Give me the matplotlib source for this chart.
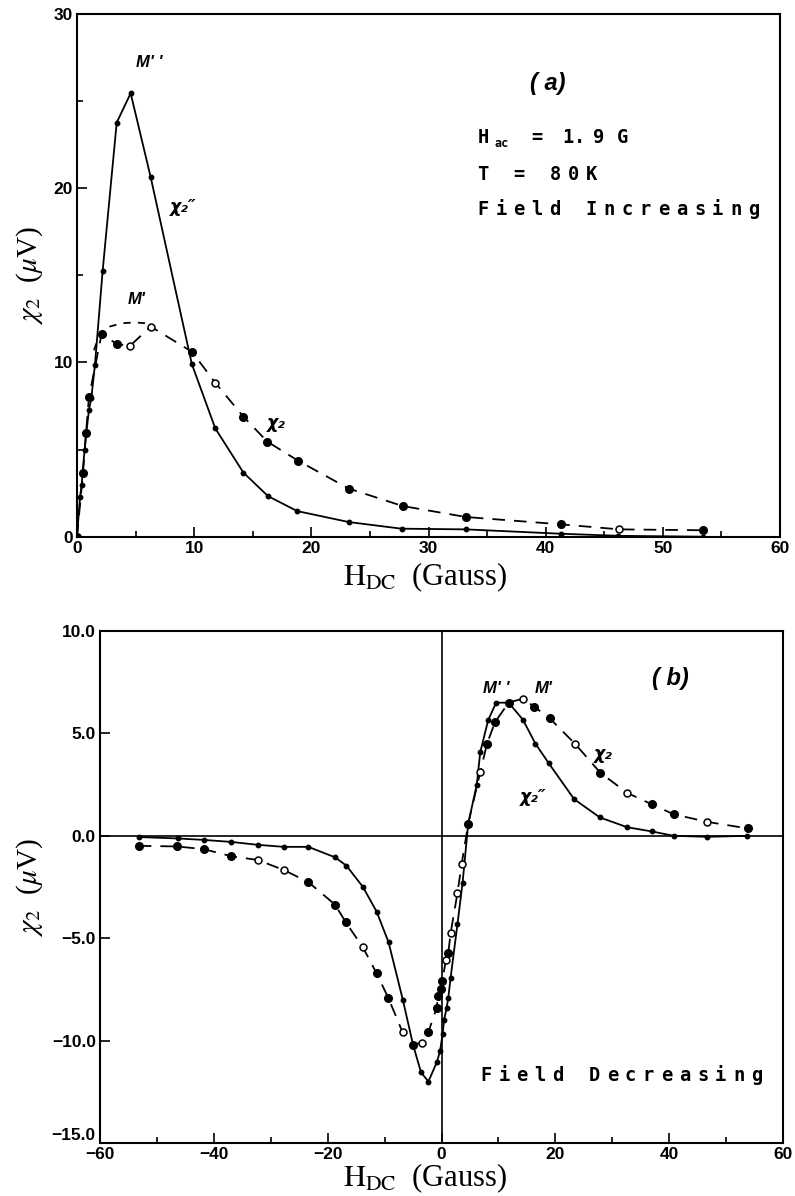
import matplotlib
matplotlib.use("Agg")
import matplotlib.pyplot as plt
from matplotlib.ticker import MultipleLocator, FuncFormatter

plt.rcParams['mathtext.fontset'] = 'stix'
plt.rcParams['font.family'] = ['Liberation Sans', 'DejaVu Sans']

# ---------------- Panel (a): field increasing ----------------
# chi2'' (solid, small dots)
sx_a = [0, 0.26, 0.40, 0.48, 0.65, 0.79, 1.02, 1.22, 1.53, 2.19, 3.39, 4.58, 6.29,
        9.8, 11.8, 14.2, 16.3, 18.8, 23.2, 27.7, 33.2, 41.3, 46.2, 53.4]
sy_a = [0, 2.30, 2.97, 3.73, 4.98, 5.94, 7.27, 7.94, 9.86, 15.27, 23.77, 25.45, 20.63,
        9.91, 6.22, 3.68, 2.33, 1.47, 0.84, 0.46, 0.42, 0.17, 0.05, 0.0]
# chi2' (dashed, big dots; 'o' = open circle, 'f' = filled)
dx_a = [0, 0.51, 0.77, 1.02, 2.1, 3.39, 4.52, 6.29, 9.8, 11.8, 14.2, 16.25, 18.9,
        23.2, 27.8, 33.2, 41.3, 46.3, 53.4]
dy_a = [0, 3.64, 5.97, 8.0, 11.64, 11.06, 10.95, 12.06, 10.62, 8.84, 6.89, 5.45, 4.35,
        2.76, 1.76, 1.13, 0.71, 0.42, 0.37]
dk_a = ['f', 'f', 'f', 'f', 'f', 'f', 'o', 'o', 'f', 'o', 'f', 'f', 'f',
        'f', 'f', 'f', 'f', 'o', 'f']
# dashed guide arc over the M' maximum
gx_a = [1.45, 1.75, 2.1, 2.8, 3.8, 5.0, 5.8, 6.29]
gy_a = [10.7, 11.3, 11.64, 12.06, 12.25, 12.3, 12.25, 12.06]

# ---------------- Panel (b): field decreasing ----------------
sx_b = [-53.2, -46.3, -41.8, -36.9, -32.3, -27.7, -23.4, -18.7, -16.7, -13.8, -11.4,
        -9.3, -6.8, -5.0, -3.6, -2.3, -0.8, -0.25, 0.2, 0.45, 0.9, 1.2, 1.6, 2.8, 3.7,
        4.7, 6.2, 6.8, 8.2, 9.6, 11.8, 14.3, 16.5, 18.8, 23.3, 27.8, 32.6, 37.0, 40.8,
        46.7, 53.7]
sy_b = [-0.06, -0.13, -0.2, -0.3, -0.44, -0.54, -0.54, -1.05, -1.46, -2.5, -3.7,
        -5.2, -8.0, -10.2, -11.55, -12.0, -11.04, -10.5, -9.67, -9.0, -8.4, -7.9, -6.93,
        -4.32, -2.3, 0.6, 2.5, 4.07, 5.65, 6.5, 6.5, 5.67, 4.5, 3.56, 1.79, 0.9, 0.42,
        0.21, 0.0, -0.05, 0.0]
dx_b = [-53.2, -46.5, -41.8, -36.9, -32.3, -27.7, -23.4, -18.7, -16.8, -13.8, -11.4,
        -9.37, -6.84, -4.97, -3.49, -2.33, -0.85, -0.6, -0.1, 0.1, 0.8, 1.2, 1.6, 2.8,
        3.55, 4.7, 6.8, 8.0, 9.4, 11.8, 14.3, 16.3, 19.0, 23.5, 27.9, 32.6, 37.0, 40.8,
        46.7, 53.8]
dy_b = [-0.49, -0.52, -0.65, -1.0, -1.18, -1.67, -2.26, -3.36, -4.23, -5.45, -6.72,
        -7.9, -9.59, -10.2, -10.1, -9.6, -8.4, -7.8, -7.5, -7.1, -6.05, -5.7, -4.76,
        -2.8, -1.37, 0.6, 3.1, 4.5, 5.55, 6.5, 6.7, 6.3, 5.74, 4.48, 3.08, 2.1, 1.53,
        1.05, 0.68, 0.36]
dk_b = ['f', 'f', 'f', 'f', 'o', 'o', 'f', 'f', 'f', 'o', 'f',
        'f', 'o', 'f', 'o', 'f', 'f', 'f', 'f', 'f', 'o', 'f', 'o',
        'o', 'o', 'f', 'o', 'f', 'f', 'f', 'o', 'f', 'f', 'o', 'f', 'o', 'f',
        'f', 'o', 'f']

xticks_a = [0, 10, 20, 30, 40, 50, 60]
yticks_a = [0, 10, 20, 30]
xticks_b = [-60, -40, -20, 0, 20, 40, 60]
yticks_b = [-15.0, -10.0, -5.0, 0.0, 5.0, 10.0]

DASH = (7, 5)
LW = 1.3


def draw(ax, sx, sy, dx, dy, dk):
    ax.plot(sx, sy, '-', color='black', lw=LW, marker='o', ms=3.2,
            mfc='black', mec='black', zorder=3)
    ax.plot(dx, dy, color='black', lw=LW, dashes=DASH, zorder=2)
    fx = [x for x, k in zip(dx, dk) if k == 'f']
    fy = [y for y, k in zip(dy, dk) if k == 'f']
    ox = [x for x, k in zip(dx, dk) if k == 'o']
    oy = [y for y, k in zip(dy, dk) if k == 'o']
    ax.plot(fx, fy, ls='none', marker='o', ms=5.5, mfc='black', mec='black', zorder=4)
    ax.plot(ox, oy, ls='none', marker='o', ms=5, mfc='white', mec='black',
            mew=1.1, zorder=4)


def spaced(ax, x, y, items, adv=13.0, size=13.5):
    for ch, cell, dy, fs in items:
        ax.annotate(ch, xy=(x, y), xycoords='data', xytext=(cell * adv, dy),
                    textcoords='offset points', ha='center', va='baseline',
                    fontsize=fs if fs else size, fontweight='bold',
                    family='DejaVu Sans Mono')


def letters(s, size=None):
    return [(c, i, 0, size) for i, c in enumerate(s) if c != ' ']


def style_axes(ax):
    for sp in ax.spines.values():
        sp.set_linewidth(1.5)
    ax.tick_params(which='both', direction='in', top=False, right=False,
                   width=1.2, labelsize=12.5, pad=3)
    ax.tick_params(which='major', length=7)
    ax.tick_params(which='minor', length=4)
    for lab in ax.get_xticklabels() + ax.get_yticklabels():
        lab.set_fontweight('bold')


def chi_label(ax, x, y, primes):
    ax.text(x, y, "\u03c7\u2082" + ("\u2033" if primes else ""), fontsize=12.5,
            fontweight='bold', fontstyle='italic', family='DejaVu Sans',
            ha='center', va='center')


fig = plt.figure(figsize=(7.95, 11.96), dpi=100)
W, H = 795.0, 1196.0
axa = fig.add_axes([77 / W, 1 - 536.7 / H, (780 - 77) / W, (536.7 - 14) / H])
axb = fig.add_axes([100 / W, 1 - 1143 / H, (783 - 100) / W, (1143 - 631) / H])

# ---- panel a ----
draw(axa, sx_a, sy_a, dx_a, dy_a, dk_a)
axa.plot(gx_a, gy_a, color='black', lw=LW, dashes=(4, 4), zorder=2)
axa.set_xlim(0, 60)
axa.set_ylim(0, 30)
axa.set_xticks(xticks_a)
axa.set_yticks(yticks_a)
axa.xaxis.set_minor_locator(MultipleLocator(5))
axa.yaxis.set_minor_locator(MultipleLocator(5))
style_axes(axa)

lab_kw = dict(fontsize=12, fontweight='bold', fontstyle='italic', ha='center', va='center')
axa.text(6.2, 27.2, "M' '", **lab_kw)
axa.text(5.1, 13.6, "M'", **lab_kw)
chi_label(axa, 9.1, 18.9, True)
chi_label(axa, 17.0, 6.5, False)
axa.text(40.2, 26.0, "( a)", fontsize=17, fontweight='bold', fontstyle='italic',
         ha='center', va='center')

spaced(axa, 34.65, 22.58, [('H', 0, 0, None), ('ac', 1.05, -3, 8.5), ('=', 3, 0, None),
                           ('1', 4.7, 0, None), ('.', 5.35, 0, None), ('9', 6.4, 0, None),
                           ('G', 7.7, 0, None)])
spaced(axa, 34.65, 20.47, letters("T = 80K"))
spaced(axa, 34.65, 18.47, letters("Field Increasing"))

# ---- panel b ----
axb.axhline(0, color='black', lw=1.2, zorder=1)
axb.axvline(0, color='black', lw=1.2, zorder=1)
draw(axb, sx_b, sy_b, dx_b, dy_b, dk_b)
axb.set_xlim(-60, 60)
axb.set_ylim(-15, 10)
axb.set_xticks(xticks_b)
axb.set_yticks(yticks_b)
axb.xaxis.set_minor_locator(MultipleLocator(10))
axb.xaxis.set_major_formatter(FuncFormatter(lambda v, p: f"{v:.0f}".replace('-', '\u2212')))
axb.yaxis.set_major_formatter(FuncFormatter(lambda v, p: f"{v:.1f}".replace('-', '\u2212')))
style_axes(axb)
# lift the lowest y tick label a little so it clears the "-60" x tick label
axb.get_yticklabels()[0].set_verticalalignment('bottom')

axb.text(9.6, 7.2, "M' '", **lab_kw)
axb.text(17.9, 7.2, "M'", **lab_kw)
chi_label(axb, 28.4, 4.0, False)
chi_label(axb, 16.1, 1.9, True)
axb.text(40.2, 7.7, "( b)", fontsize=17, fontweight='bold', fontstyle='italic',
         ha='center', va='center')
spaced(axb, 7.8, -11.98, letters("Field Decreasing"))

# ---- axis titles ----
ylab = r"$\chi_2$  ($\mu$V)"
xlab = r"$\mathrm{H_{DC}}$  (Gauss)"
fig.text(30 / W, 1 - 275 / H, ylab, rotation=90, ha='center', va='center',
         fontsize=21, family='Liberation Serif')
fig.text(30 / W, 1 - 887 / H, ylab, rotation=90, ha='center', va='center',
         fontsize=21, family='Liberation Serif')
fig.text(425 / W, 1 - 585 / H, xlab, ha='center', va='baseline',
         fontsize=22, family='Liberation Serif')
fig.text(425 / W, 1 - 1186 / H, xlab, ha='center', va='baseline',
         fontsize=22, family='Liberation Serif')

fig.savefig("out.png", dpi=100)
